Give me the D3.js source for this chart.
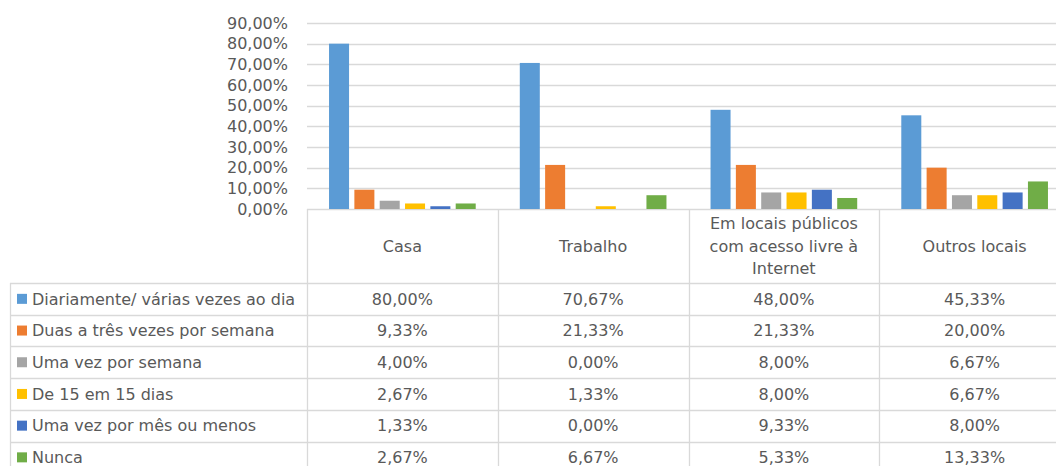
<!DOCTYPE html>
<html>
<head>
<meta charset="utf-8">
<script src="https://cdn.jsdelivr.net/npm/d3@7"></script>
<style>
  body { margin: 0; background: #fff; }
  text { font-family: "DejaVu Sans", Verdana, sans-serif; fill: #595959; }
</style>
</head>
<body>
<svg id="chart"></svg>
<script>
var places = ["Casa", "Trabalho", "Em locais públicos com acesso livre à Internet", "Outros locais"]
var placeLines = [["Casa"], ["Trabalho"], ["Em locais públicos", "com acesso livre à", "Internet"], ["Outros locais"]]
var freqs = ["Diariamente/ várias vezes ao dia", "Duas a três vezes por semana", "Uma vez por semana",
    "De 15 em 15 dias", "Uma vez por mês ou menos", "Nunca"]
var colors = ["#5B9BD5", "#ED7D31", "#A5A5A5", "#FFC000", "#4472C4", "#70AD47"]

var diariamente = [80.00, 70.67, 48.00, 45.33]
var duasTres = [9.33, 21.33, 21.33, 20.00]
var umaSemana = [4.00, 0.00, 8.00, 6.67]
var quinzenal = [2.67, 1.33, 8.00, 6.67]
var umaMes = [1.33, 0.00, 9.33, 8.00]
var nunca = [2.67, 6.67, 5.33, 13.33]
var series = [diariamente, duasTres, umaSemana, quinzenal, umaMes, nunca]

var yTicks = [0, 10, 20, 30, 40, 50, 60, 70, 80, 90]

var width = 1056, height = 466
var svg = d3.select("#chart").attr("width", width).attr("height", height)

var locale = d3.formatLocale({decimal: ",", thousands: ".", grouping: [3], currency: ["", "€"]})
var fmt = function (v) { return locale.format(".2f")(v) + "%" }

var x0 = d3.scaleBand().domain(places).range([307, 1070])
var x1 = d3.scaleBand().domain(d3.range(freqs.length))
    .range([0, x0.bandwidth()]).paddingInner(0.21).paddingOuter(0.87)
var y = d3.scaleLinear().domain([0, 90]).range([209, 23])

var gridColor = "#d9d9d9"

// gridlines
svg.append("g").selectAll("line")
    .data(yTicks)
    .enter().append("line")
        .attr("x1", 307).attr("x2", width)
        .attr("y1", d => Math.round(y(d)) + 0.5).attr("y2", d => Math.round(y(d)) + 0.5)
        .attr("stroke", gridColor).attr("stroke-width", 1.3)

// y labels
svg.append("g").selectAll("text")
    .data(yTicks)
    .enter().append("text")
        .attr("x", 288)
        .attr("y", d => y(d))
        .attr("dy", "0.36em")
        .attr("text-anchor", "end")
        .style("font-size", "16px")
        .text(d => fmt(d))

// bars
var groups = svg.append("g").selectAll("g")
    .data(places)
    .enter().append("g")
        .attr("transform", d => "translate(" + x0(d) + ",0)")

groups.selectAll("rect")
    .data((d, i) => series.map((s, j) => ({k: j, v: s[i]})))
    .enter().append("rect")
        .attr("x", d => x1(d.k))
        .attr("width", x1.bandwidth())
        .attr("y", d => y(d.v))
        .attr("height", d => y(0) - y(d.v))
        .attr("fill", d => colors[d.k])

// data table
var headTop = 209, headBottom = 283, rowH = 31.7
var rowY = d => headBottom + d * rowH
var table = svg.append("g")

var grid = table.append("g").attr("stroke", gridColor).attr("stroke-width", 1.3).attr("fill", "none")
// horizontal lines
d3.range(freqs.length + 1).forEach(function (i) {
    grid.append("line")
        .attr("x1", 10).attr("x2", width)
        .attr("y1", Math.round(rowY(i)) + 0.5).attr("y2", Math.round(rowY(i)) + 0.5)
})
// vertical lines
places.concat(["end"]).forEach(function (p, i) {
    var xx = i < places.length ? x0(p) : x0.range()[1]
    grid.append("line")
        .attr("x1", Math.round(xx) + 0.5).attr("x2", Math.round(xx) + 0.5)
        .attr("y1", headTop).attr("y2", height)
})
grid.append("line")
    .attr("x1", 10.5).attr("x2", 10.5)
    .attr("y1", headBottom).attr("y2", height)

// header text
places.forEach(function (p, i) {
    var lines = placeLines[i]
    var cy = (headTop + headBottom) / 2
    var lh = 22.5
    var t = table.append("text")
        .attr("text-anchor", "middle")
        .style("font-size", "16px")
    lines.forEach(function (l, k) {
        t.append("tspan")
            .attr("x", x0(p) + x0.bandwidth() / 2)
            .attr("y", cy + (k - (lines.length - 1) / 2) * lh)
            .attr("dy", "0.36em")
            .text(l)
    })
})

// legend column + values
freqs.forEach(function (f, i) {
    var cy = rowY(i) + rowH / 2
    table.append("rect")
        .attr("x", 17).attr("y", cy - 5)
        .attr("width", 10).attr("height", 10)
        .attr("fill", colors[i])
    table.append("text")
        .attr("x", 32).attr("y", cy).attr("dy", "0.36em")
        .style("font-size", "16px")
        .text(f)
    places.forEach(function (p, j) {
        table.append("text")
            .attr("x", x0(p) + x0.bandwidth() / 2)
            .attr("y", cy).attr("dy", "0.36em")
            .attr("text-anchor", "middle")
            .style("font-size", "16px")
            .text(fmt(series[i][j]))
    })
})
</script>
</body>
</html>
